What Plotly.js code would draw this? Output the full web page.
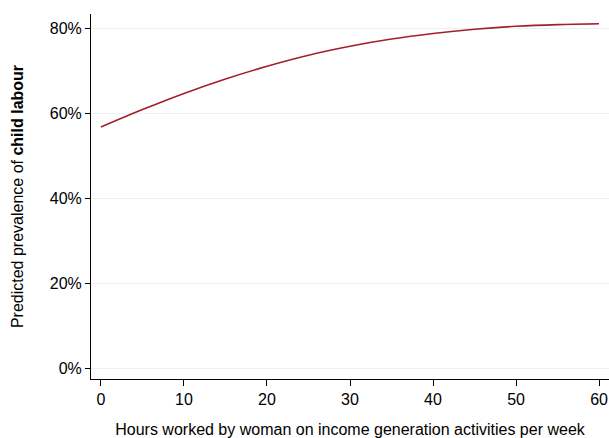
<!DOCTYPE html>
<html>
<head>
<meta charset="utf-8">
<script src="https://cdn.plot.ly/plotly-3.0.1.min.js"></script>
<style>html,body{margin:0;padding:0;background:#fff;}#chart{width:609px;height:438px;}</style>
</head>
<body>
<div id="chart"></div>
<script>
const hours = [0, 5, 10, 15, 20, 25, 30, 35, 40, 45, 50, 55, 60];
const prevalence = [0.569, 0.610, 0.648, 0.682, 0.712, 0.738, 0.759, 0.776, 0.789, 0.799, 0.806, 0.810, 0.812];
const xTicks = [0, 10, 20, 30, 40, 50, 60];
const yTicks = [0, 0.2, 0.4, 0.6, 0.8];
const yTickLabels = ["0%", "20%", "40%", "60%", "80%"];

const font = "Liberation Sans, Arial, Helvetica, sans-serif";
const trace = {
  x: hours, y: prevalence, type: "scatter", mode: "lines",
  line: {color: "#a41f2a", width: 1.6, shape: "spline", smoothing: 0.8},
  hoverinfo: "skip"
};
const layout = {
  width: 609, height: 438,
  margin: {l: 91, r: 0, t: 14, b: 59},
  paper_bgcolor: "#fff", plot_bgcolor: "#fff",
  showlegend: false,
  font: {family: font, size: 16, color: "#000"},
  xaxis: {
    range: [-1.2, 61.2], tickvals: xTicks, ticktext: xTicks.map(String),
    showgrid: false, zeroline: false, showline: true, linecolor: "#000", linewidth: 1,
    ticks: "outside", ticklen: 6, tickcolor: "#000", tickwidth: 1,
    tickfont: {family: font, size: 16, color: "#000"},
    title: {text: "Hours worked by woman on income generation activities per week", font: {family: font, size: 16, color: "#000"}, standoff: 18}
  },
  yaxis: {
    range: [-0.024, 0.835], tickvals: yTicks, ticktext: yTickLabels,
    showgrid: true, gridcolor: "#eaf1f3", gridwidth: 1,
    zeroline: false, showline: true, linecolor: "#000", linewidth: 1,
    ticks: "outside", ticklen: 5, tickcolor: "#000", tickwidth: 1,
    tickfont: {family: font, size: 16, color: "#000"},
    title: {text: "Predicted prevalence of <b>child labour</b>", font: {family: font, size: 16, color: "#000"}, standoff: 22}
  }
};
Plotly.newPlot("chart", [trace], layout, {staticPlot: true, displayModeBar: false});
</script>
</body>
</html>
